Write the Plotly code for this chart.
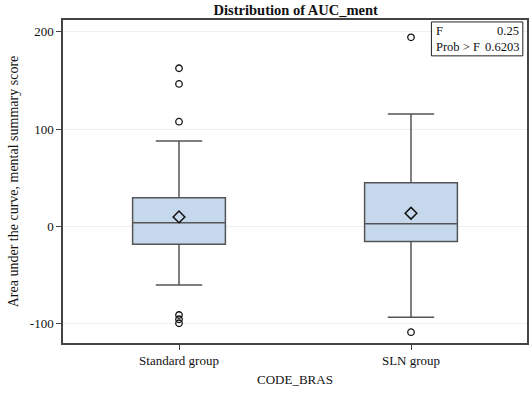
import plotly.graph_objects as go

categories = ["Standard group", "SLN group"]
q1 = [-18.3, -15.6]
median = [3.9, 2.9]
q3 = [29.6, 45.0]
lower_whisker = [-60.1, -93.3]
upper_whisker = [87.9, 115.6]
means = [9.8, 13.6]
outliers_std = [162.6, 146.5, 107.7, -91.0, -95.4, -99.5]
outliers_sln = [194.4, -108.7]
f_value = "0.25"
prob_f = "0.6203"
y_ticks = [-100, 0, 100, 200]
y_tick_labels = ["-100", "0", "100", "200"]

FONT = "Liberation Serif, Times New Roman, serif"
LINE = "#555555"

fig = go.Figure()
fig.add_trace(go.Box(
    x=categories, q1=q1, median=median, q3=q3,
    lowerfence=lower_whisker, upperfence=upper_whisker,
    boxpoints=False, width=0.4, whiskerwidth=0.5,
    fillcolor="#C6D8EC", line=dict(color=LINE, width=1.5),
    showlegend=False, hoverinfo="skip",
))
fig.add_trace(go.Scatter(
    x=categories, y=means, mode="markers",
    marker=dict(symbol="diamond-open", size=9, color="#111111", line=dict(width=1.5)),
    showlegend=False,
))
fig.add_trace(go.Scatter(
    x=[categories[0]] * len(outliers_std) + [categories[1]] * len(outliers_sln),
    y=outliers_std + outliers_sln, mode="markers",
    marker=dict(symbol="circle-open", size=6.5, color="#111111", line=dict(width=1.3)),
    showlegend=False,
))

fig.update_layout(
    width=532, height=393,
    margin=dict(l=63, r=3, t=20, b=50),
    paper_bgcolor="white", plot_bgcolor="white",
    font=dict(family=FONT, size=13, color="#111111"),
    title=dict(text="<b>Distribution of AUC_ment</b>", x=0.556, xanchor="center",
               y=0.975, yanchor="middle", font=dict(family=FONT, size=14.5, color="#111111")),
    xaxis=dict(
        range=[-0.5, 1.5], showgrid=False, zeroline=False,
        showline=True, linecolor="#444444", linewidth=1.5, mirror=True,
        ticks="outside", ticklen=5, tickcolor="#444444",
        title=dict(text="CODE_BRAS", font=dict(family=FONT, size=13), standoff=8),
        tickfont=dict(family=FONT, size=13),
    ),
    yaxis=dict(
        range=[-119.8, 212.2], tickvals=y_ticks, ticktext=y_tick_labels,
        showgrid=True, gridcolor="#EFEFEF", zeroline=False,
        showline=True, linecolor="#444444", linewidth=1.5, mirror=True,
        ticks="outside", ticklen=5, tickcolor="#444444",
        title=dict(text="Area under the curve, mental summary score",
                   font=dict(family=FONT, size=14), standoff=8),
        tickfont=dict(family=FONT, size=13),
    ),
)

fig.add_shape(type="rect", xref="paper", yref="paper",
              x0=0.794, x1=0.991, y0=0.889, y1=0.994,
              line=dict(color="#222222", width=1), fillcolor="white", layer="above")
fig.add_annotation(xref="paper", yref="paper", x=0.80, y=0.966, text="F",
                   showarrow=False, xanchor="left", yanchor="middle", font=dict(size=12.5))
fig.add_annotation(xref="paper", yref="paper", x=0.986, y=0.966, text=f_value,
                   showarrow=False, xanchor="right", yanchor="middle", font=dict(size=12.5))
fig.add_annotation(xref="paper", yref="paper", x=0.80, y=0.916, text="Prob &gt; F",
                   showarrow=False, xanchor="left", yanchor="middle", font=dict(size=12.5))
fig.add_annotation(xref="paper", yref="paper", x=0.986, y=0.916, text=prob_f,
                   showarrow=False, xanchor="right", yanchor="middle", font=dict(size=12.5))

fig.write_html("out.html", config={"displayModeBar": False},
               post_script="document.body.style.margin='0';")
